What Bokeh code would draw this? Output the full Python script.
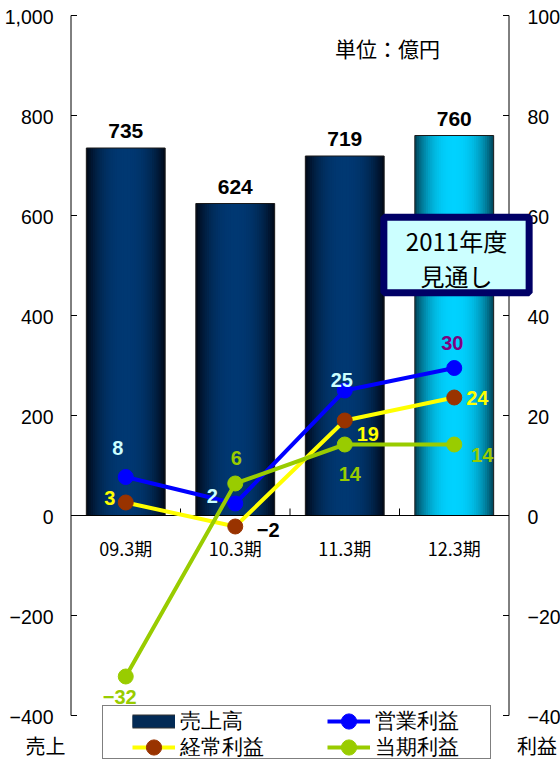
from bokeh.plotting import figure
from bokeh.models import Range1d, ColumnDataSource, Legend, LegendItem, Label
from bokeh.core.properties import value
from bokeh.embed import file_html
from bokeh.resources import INLINE

# ---------------- data ----------------
periods = ["09.3期", "10.3期", "11.3期", "12.3期"]
sales = [735, 624, 719, 760]                 # 売上高 (left axis, 億円)
op_profit = [7.7, 2.4, 25.0, 29.5]           # 営業利益 (right axis)
ord_profit = [2.6, -2.2, 19.0, 23.6]         # 経常利益
net_profit = [-32.2, 6.4, 14.2, 14.2]        # 当期利益
left_ticks = [-400, -200, 0, 200, 400, 600, 800, 1000]
left_tick_labels = ["−400", "−200", "0", "200", "400", "600", "800", "1,000"]
right_ticks = [-40, -20, 0, 20, 40, 60, 80, 100]
right_tick_labels = ["−40", "−20", "0", "20", "40", "60", "80", "100"]

# ---------------- layout & styles ----------------
W_FIG, H_FIG = 560, 761
FRAME_L, FRAME_R, FRAME_T, FRAME_B = 70.5, 508.5, 15, 715   # axis box in pixels
JP = "Noto Sans CJK JP"
NUM = "Liberation Sans"
bar_edge = ["#000b1c", "#000b1c", "#000b1c", "#004a60"]
bar_center = ["#003872", "#003872", "#003872", "#00d2ff"]
op_label_colors = ["#ccffff", "#ccffff", "#ccffff", "#800080"]
ord_label_colors = ["#ffff00", "#000000", "#ffff00", "#ffff00"]
net_label_colors = ["#99cc00", "#99cc00", "#99cc00", "#99cc00"]
op_off = [(-8, -29), (-23, -8), (-3, -11), (-2, -25)]
ord_off = [(-16, -5), (33, 3), (23, 13), (23, 0)]
net_off = [(-6, 20), (1, -26), (5, 29), (28, 10)]
NAN = float("nan")


def fmt(v):
    return str(int(round(v))).replace("-", "−")


def mix(c1, c2, t):
    a = [int(c1[i:i + 2], 16) for i in (1, 3, 5)]
    b = [int(c2[i:i + 2], 16) for i in (1, 3, 5)]
    return "#%02x%02x%02x" % tuple(int(round(x + (y - x) * t)) for x, y in zip(a, b))


n = len(periods)
cat_x = [i + 0.5 for i in range(n)]
ppc = (FRAME_R - FRAME_L) / n
x_range = Range1d(-FRAME_L / ppc, n + (W_FIG - FRAME_R) / ppc)
lo, hi = left_ticks[0], left_ticks[-1]
upp = (hi - lo) / (FRAME_B - FRAME_T)
y_range = Range1d(lo - (H_FIG - FRAME_B) * upp, hi + FRAME_T * upp)
rlo, rhi = right_ticks[0], right_ticks[-1]
rupp = (rhi - rlo) / (FRAME_B - FRAME_T)
r_range = Range1d(rlo - (H_FIG - FRAME_B) * rupp, rhi + FRAME_T * rupp)

p = figure(width=W_FIG, height=H_FIG, output_backend="svg", toolbar_location=None,
           x_range=x_range, y_range=y_range, x_axis_location=None, y_axis_location=None,
           min_border=0)
p.extra_y_ranges = {"right": r_range}
p.outline_line_color = None
p.grid.visible = False
p.background_fill_color = "white"
p.border_fill_color = "white"

# ---------------- bars with horizontal gradient ----------------
N_LAYERS = 18
BAR_W = 0.72
for k in range(N_LAYERS):
    r = 1 - k / N_LAYERS
    b = 1 - r ** 2.5
    cols = [mix(e, c, b) for e, c in zip(bar_edge, bar_center)]
    src = ColumnDataSource(dict(x=cat_x, top=sales, color=cols))
    p.vbar(x="x", top="top", bottom=0, width=BAR_W * r, source=src,
           fill_color="color", line_color=None)
p.vbar(x=cat_x, top=sales, bottom=0, width=BAR_W, fill_color=None,
       line_color="#1a1a1a", line_width=1)

p.text(x=cat_x, y=sales, text=[str(v) for v in sales], y_offset=-17,
       text_align="center", text_baseline="middle", text_font=value(NUM),
       text_font_style="bold", text_font_size="21px", text_color="#000000")

# ---------------- axes (left: 売上, right: 利益) ----------------
AX = dict(line_color="#000000", line_width=1)
p.segment(x0=[0], y0=[lo], x1=[0], y1=[hi], **AX)
p.ray(x=[0] * len(left_ticks), y=left_ticks, length=6, length_units="screen",
      angle=0, **AX)
p.text(x=[0] * len(left_ticks), y=left_ticks, text=left_tick_labels, x_offset=-17.5,
       y_offset=1, text_align="right", text_baseline="middle", text_font=value(NUM),
       text_font_size="19.5px", text_color="#000000")
p.segment(x0=[n], y0=[rlo], x1=[n], y1=[rhi], y_range_name="right", **AX)
p.ray(x=[n] * len(right_ticks), y=right_ticks, length=6, length_units="screen",
      angle=3.141592653589793, y_range_name="right", **AX)
p.text(x=[n] * len(right_ticks), y=right_ticks, text=right_tick_labels, x_offset=18.5,
       y_offset=1, y_range_name="right", text_align="left", text_baseline="middle",
       text_font=value(NUM), text_font_size="19.5px", text_color="#000000")
p.text(x=[0], y=[lo], text=["売上"], x_offset=-25.5, y_offset=30, text_align="center",
       text_baseline="middle", text_font=value(JP), text_font_size="20px",
       text_color="#000000")
p.text(x=[n], y=[rlo], text=["利益"], x_offset=28, y_offset=30, y_range_name="right",
       text_align="center", text_baseline="middle", text_font=value(JP),
       text_font_size="20px", text_color="#000000")

# zero line with category separators, category labels
p.segment(x0=[0], y0=[0], x1=[n], y1=[0], **AX)
bounds = list(range(1, n))
p.ray(x=bounds, y=[0] * len(bounds), length=7, length_units="screen",
      angle=3.141592653589793 / 2, **AX)
p.text(x=cat_x, y=[0] * n, text=periods, y_offset=32,
       text_align="center", text_baseline="middle", text_font=value(JP),
       text_font_size="18px", text_color="#000000")

# ---------------- profit lines ----------------
series = [
    ("営業利益", op_profit, "#0000ff", "#0000ff", op_label_colors, op_off),
    ("経常利益", ord_profit, "#ffff00", "#993300", ord_label_colors, ord_off),
    ("当期利益", net_profit, "#99cc00", "#99cc00", net_label_colors, net_off),
]
line_items = {}
for name, vals, lc, mc, tcols, offs in series:
    lr = p.line(x=cat_x, y=vals, y_range_name="right", line_color=lc, line_width=4)
    sr = p.scatter(x=cat_x, y=vals, y_range_name="right", size=15,
                   fill_color=mc, line_color=mc)
    line_items[name] = [lr, sr]
for name, vals, lc, mc, tcols, offs in series:
    src = ColumnDataSource(dict(x=cat_x, y=vals, t=[fmt(v) for v in vals], c=tcols,
                                dx=[o[0] for o in offs], dy=[o[1] for o in offs]))
    p.text(x="x", y="y", text="t", source=src, y_range_name="right",
           x_offset="dx", y_offset="dy", text_color="c", text_align="center",
           text_baseline="middle", text_font=value(NUM), text_font_style="bold",
           text_font_size="20px")

# ---------------- annotations ----------------
p.add_layout(Label(x=387, y=H_FIG - 47.5, x_units="screen", y_units="screen",
                   text="単位：億円", text_align="center", text_baseline="middle",
                   text_font=JP, text_font_size="21px", text_color="#000000"))
p.add_layout(Label(x=456, y=H_FIG - 254.5, x_units="screen", y_units="screen",
                   text="2011年度\n見通し", text_align="center", text_baseline="middle",
                   text_font=JP, text_font_size="24px", text_color="#000000",
                   text_line_height=0.98,
                   background_fill_color="#ccffff", border_line_color="#000066",
                   border_line_width=7,
                   padding=dict(left=22, right=22, top=6, bottom=0)))

# ---------------- legend ----------------
dummy = p.scatter(x=[NAN], y=[NAN], fill_alpha=0, line_alpha=0)
swatch_border = p.line(x=[NAN, NAN], y=[NAN, NAN], line_color="#333333", line_width=14)
swatch_fill = p.line(x=[NAN, NAN], y=[NAN, NAN], line_color="#022a56", line_width=12)
p.add_layout(Legend(items=[LegendItem(label=" ", renderers=[dummy])], location=(102, 2),
                    padding=0, margin=0, glyph_width=387, glyph_height=52,
                    label_standoff=0, label_width=0, label_height=0,
                    label_text_font_size="1px", border_line_color="#000000",
                    border_line_width=1, background_fill_color="white",
                    background_fill_alpha=1))
common = dict(padding=0, margin=0, glyph_width=43, glyph_height=38, label_height=38,
              label_standoff=5, spacing=0, border_line_alpha=0, background_fill_alpha=0,
              label_text_font=NUM, label_text_font_size="21px", label_text_color="#000000")
row1_y = H_FIG - (721 + 19)
row2_y = H_FIG - (747 + 19)
for lab, rends, lx, ly in [
    ("売上高", [swatch_border, swatch_fill], 132, row1_y),
    ("経常利益", line_items["経常利益"], 132, row2_y),
    ("営業利益", line_items["営業利益"], 327, row1_y),
    ("当期利益", line_items["当期利益"], 327, row2_y),
]:
    p.add_layout(Legend(items=[LegendItem(label=lab, renderers=rends)],
                        location=(lx, ly), **common))

open("out.html", "w").write(file_html(p, INLINE))
